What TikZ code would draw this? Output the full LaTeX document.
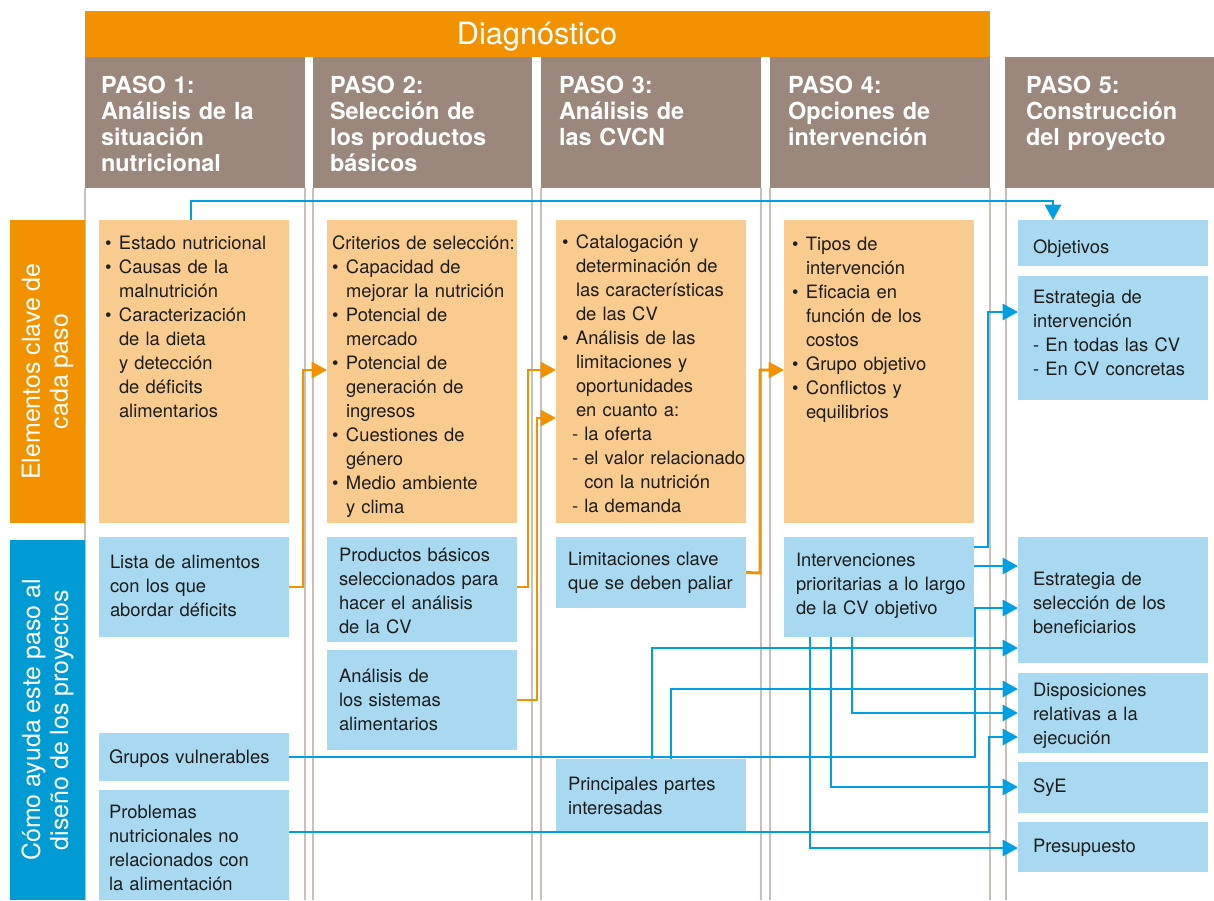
\documentclass[tikz,border=0pt]{standalone}
\usepackage{fontspec}
\setmainfont{TeX Gyre Heros}
\usetikzlibrary{fit,arrows.meta,calc}
\definecolor{hdrorange}{HTML}{F39200}
\definecolor{hdrbrown}{HTML}{9B877C}
\definecolor{lightorange}{HTML}{F9CB8F}
\definecolor{lightblue}{HTML}{A9D8F1}
\definecolor{connblue}{HTML}{009FE3}
\definecolor{connorange}{HTML}{F39200}
\definecolor{labelblue}{HTML}{009BD5}
\definecolor{sepgray}{HTML}{CBBFB9}
\definecolor{textcol}{HTML}{1D1D1B}
\newcommand\myb{\makebox[10.5pt][l]{\textbullet}}
\newcommand\myi{\hspace*{10.5pt}}
\tikzset{
  bx/.style={inner sep=0pt, outer sep=0pt, draw=none},
  ob/.style={bx, fill=lightorange},
  lb/.style={bx, fill=lightblue},
  hd/.style={bx, fill=hdrbrown},
  txt/.style={anchor=base west, inner sep=0pt, outer sep=0pt, text width=250pt, align=left,
    font=\fontsize{13.8}{18}\selectfont, text=textcol},
  htxt/.style={anchor=base west, inner sep=0pt, outer sep=0pt, text width=200pt, align=left,
    font=\fontsize{17.6}{19.5}\selectfont\bfseries, text=white},
  sidetxt/.style={rotate=90, align=center, inner sep=0pt, text=white,
    font=\fontsize{18.7}{21}\selectfont},
  sep/.style={draw=sepgray, line width=1.1pt},
  bc/.style={draw=connblue, line width=2.2pt, -{Triangle[length=11.5pt,width=12pt]}},
  oc/.style={draw=connorange, line width=2.2pt, -{Triangle[length=11.5pt,width=12pt]}},
}
\begin{document}
\begin{tikzpicture}[x=0.75pt,y=-0.75pt]
\useasboundingbox (0,0) rectangle (1214,900);
% column separators
\foreach \xx in {85,305,313,532,541,761,770,990,1006}{
  \draw[sep] (\xx,188) -- (\xx,900);
}
% header
\node[bx, fill=hdrorange, fit={(85,11) (990,57)}] (diag) {};
\node[anchor=base, inner sep=0pt, text=white, font=\fontsize{23}{26}\selectfont] (diagt) at (537,44) {Diagnóstico};
\node[hd, fit={(85,57) (305,188)}] (h1) {};
\node[hd, fit={(313,57) (532,188)}] (h2) {};
\node[hd, fit={(541,57) (761,188)}] (h3) {};
\node[hd, fit={(770,57) (990,188)}] (h4) {};
\node[hd, fit={(1005,57) (1214,188)}] (h5) {};
\node[htxt] (h1t) at (101,93) {PASO 1:\\Análisis de la\\situación\\nutricional};
\node[htxt] (h2t) at (330,93) {PASO 2:\\Selección de\\los productos\\básicos};
\node[htxt] (h3t) at (559,93) {PASO 3:\\Análisis de\\las CVCN};
\node[htxt] (h4t) at (788,93) {PASO 4:\\Opciones de\\intervención};
\node[htxt] (h5t) at (1026,93) {PASO 5:\\Construcción\\del proyecto};
% side labels
\node[bx, fill=hdrorange, fit={(10,220) (85,523)}] (lbl1) {};
\node[bx, fill=labelblue, fit={(10,540) (85,900)}] (lbl2) {};
\node[sidetxt] (lbl1t) at (lbl1.center) {Elementos clave de\\cada paso};
\node[sidetxt] (lbl2t) at (lbl2.center) {Cómo ayuda este paso al\\diseño de los proyectos};
% orange boxes
\node[ob, fit={(99,220) (289,523)}] (o1) {};
\node[ob, fit={(327,220) (517,523)}] (o2) {};
\node[ob, fit={(556,220) (746,523)}] (o3) {};
\node[ob, fit={(784,220) (974,523)}] (o4) {};
\node[txt] (o1t) at (105,249) {\myb Estado nutricional\\\myb Causas de la\\\myi malnutrición\\\myb Caracterización\\\myi de la dieta\\\myi y detección\\\myi de déficits\\\myi alimentarios};
\node[txt] (o2t) at (332,249) {Criterios de selección:\\\myb Capacidad de\\\myi mejorar la nutrición\\\myb Potencial de\\\myi mercado\\\myb Potencial de\\\myi generación de\\\myi ingresos\\\myb Cuestiones de\\\myi género\\\myb Medio ambiente\\\myi y clima};
\node[txt] (o3t) at (562,248) {\myb Catalogación y\\\myi determinación de\\\myi las características\\\myi de las CV\\\myb Análisis de las\\\myi limitaciones y\\\myi oportunidades\\\myi en cuanto a:\\\hspace*{7.5pt}- la oferta\\\hspace*{7.5pt}- el valor relacionado\\\hspace*{7.5pt}\hphantom{- }con la nutrición\\\hspace*{7.5pt}- la demanda};
\node[txt] (o4t) at (792,250) {\myb Tipos de\\\myi intervención\\\myb Eficacia en\\\myi función de los\\\myi costos\\\myb Grupo objetivo\\\myb Conflictos y\\\myi equilibrios};
% blue boxes
\node[lb, fit={(99,537) (289,637)}] (lista) {};
\node[lb, fit={(99,733) (289,781)}] (grupos) {};
\node[lb, fit={(99,790) (289,900)}] (probl) {};
\node[lb, fit={(327,537) (517,642)}] (prod) {};
\node[lb, fit={(327,650) (517,750)}] (asis) {};
\node[lb, fit={(556,537) (746,608)}] (limit) {};
\node[lb, fit={(556,759) (746,831)}] (princ) {};
\node[lb, fit={(784,537) (974,637)}] (interv) {};
\node[lb, fit={(1018,220) (1208,266)}] (obj) {};
\node[lb, fit={(1018,276) (1208,400)}] (estint) {};
\node[lb, fit={(1018,537) (1208,663)}] (estsel) {};
\node[lb, fit={(1018,673) (1208,753)}] (disp) {};
\node[lb, fit={(1018,762) (1208,813)}] (sye) {};
\node[lb, fit={(1018,822) (1208,872)}] (presu) {};
\node[txt] (listat) at (110,568) {Lista de alimentos\\con los que\\abordar déficits};
\node[txt] (gruposl) at (109,763) {Grupos vulnerables};
\node[txt] (problt) at (109,818) {Problemas\\nutricionales no\\relacionados con\\la alimentación};
\node[txt] (prodt) at (339,561) {Productos básicos\\seleccionados para\\hacer el análisis\\de la CV};
\node[txt] (asist) at (339,682) {Análisis de\\los sistemas\\alimentarios};
\node[txt] (limitt) at (568,565) {Limitaciones clave\\que se deben paliar};
\node[txt] (princt) at (568,790) {Principales partes\\interesadas};
\node[txt] (intervt) at (796,566) {Intervenciones\\prioritarias a lo largo\\de la CV objetivo};
\node[txt] (objt) at (1033,253) {Objetivos};
\node[txt] (estintt) at (1033,303) {Estrategia de\\intervención\\- En todas las CV\\- En CV concretas};
\node[txt] (estselt) at (1033,585) {Estrategia de\\selección de los\\beneficiarios};
\node[txt] (dispt) at (1033,696) {Disposiciones\\relativas a la\\ejecución};
\node[txt] (syet) at (1033,792) {SyE};
\node[txt] (presut) at (1033,852) {Presupuesto};
% orange connectors
\draw[oc] (lista.east) -- (303,587) -- (303,370) -- (o2.west |- 0,370);
\draw[oc] (prod.east |- 0,587) -- (528,587) -- (528,370) -- (o3.west |- 0,370);
\draw[oc] (asis.east) -- (537,700) -- (537,418) -- (o3.west |- 0,418);
\draw[oc] (limit.east) -- (760,573) -- (760,370) -- (o4.west |- 0,370);
% blue connectors
\draw[bc] (o1.north -| 191,0) -- (191,201) -- (1053,201) -- (obj.north -| 1053,0);
\draw[bc] (interv.east |- 0,547) -- (988,547) -- (988,312) -- (estint.west |- 0,312);
\draw[bc] (interv.east |- 0,566) -- (estsel.west |- 0,566);
\draw[bc] (grupos.east |- 0,757) -- (975,757) -- (975,608) -- (estsel.west |- 0,608);
\draw[bc] (princ.north -| 652,0) -- (652,648) -- (estsel.west |- 0,648);
\draw[bc] (princ.north -| 671,0) -- (671,689) -- (disp.west |- 0,689);
\draw[bc] (interv.south -| 852,0) -- (852,713) -- (disp.west |- 0,713);
\draw[bc] (interv.south -| 831,0) -- (831,787) -- (sye.west |- 0,787);
\draw[bc] (interv.south -| 810,0) -- (810,848) -- (presu.west |- 0,848);
\draw[bc] (probl.east |- 0,832) -- (989,832) -- (989,737) -- (disp.west |- 0,737);
\end{tikzpicture}
\end{document}
